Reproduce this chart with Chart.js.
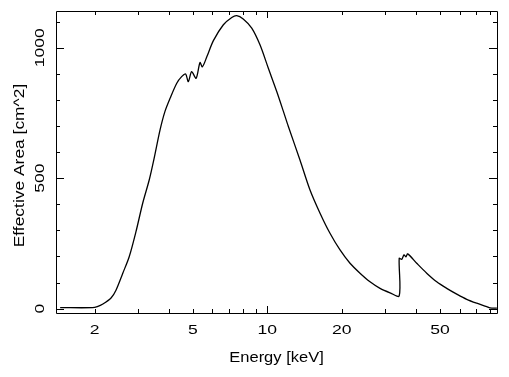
<!DOCTYPE html>
<html>
<head>
<meta charset="utf-8">
<script src="https://cdn.jsdelivr.net/npm/chart.js@4/dist/chart.umd.min.js"></script>
<style>
  body { margin: 0; background: #fff; }
  canvas { display: block; }
</style>
</head>
<body>
<canvas id="chart-area" width="509" height="377"></canvas>
<script>
// effective area curve (keV, cm^2)
const energies = [1.45, 1.96, 2.05, 2.16, 2.33, 2.44, 2.60, 2.76, 2.94, 3.13, 3.33, 3.48, 3.68, 3.85, 4.04,
    4.30, 4.50, 4.67, 4.79, 4.94, 5.15, 5.34, 5.46, 5.69, 6.05, 6.64, 7.18, 7.52, 7.99, 8.65, 9.34,
    10.09, 10.91, 11.61, 12.16, 13.56, 14.89, 16.35, 17.94, 19.70, 21.62, 23.73, 26.05, 28.60, 31.40,
    34.2, 34.2, 35.01, 35.77, 36.44, 37.02, 40.27, 44.19, 48.51, 53.25, 58.46, 64.18, 70.45, 77.33, 79.7, 85];
const areas = [4, 4, 8, 18, 41, 71, 136, 199, 295, 404, 495, 575, 685, 755, 806,
    864, 889, 899, 870, 908, 883, 943, 927, 965, 1027, 1088, 1116, 1123, 1110, 1075, 1011,
    922, 833, 757, 699, 570, 455, 366, 289, 225, 174, 136, 103, 78, 61,
    49, 193, 189, 206, 199, 210, 174, 136, 103, 78, 56, 36, 21, 8, 3, 2];

const xLabels = [2, 5, 10, 20, 50];
const xMajor = [10];
const xMinor = [2, 3, 4, 5, 6, 7, 8, 9, 20, 30, 40, 50, 60, 70, 80];
const yLabels = [0, 500, 1000];
const yMinor = [0, 100, 200, 300, 400, 500, 600, 700, 800, 900, 1000, 1100];

const FONT = '"Liberation Sans", Arial, sans-serif';

function stretchText(ctx, txt, px, py, rot, sx) {
    ctx.save();
    ctx.translate(px, py);
    ctx.rotate(rot);
    ctx.scale(sx, 1);
    ctx.fillText(txt, 0, 0);
    ctx.restore();
}

// pgplot-like box: frame, inward ticks on all sides, labels
const pgBox = {
    id: 'pgBox',
    afterDraw: (chart) => {
        const {ctx, chartArea: {left, right, top, bottom}, scales: {x, y}} = chart;
        ctx.save();
        ctx.strokeStyle = '#000';
        ctx.lineWidth = 1;
        ctx.beginPath();
        ctx.rect(Math.round(left) + 0.5, Math.round(top) + 0.5, Math.round(right - left), Math.round(bottom - top));
        const tick = (x0, y0, x1, y1) => { ctx.moveTo(x0, y0); ctx.lineTo(x1, y1); };
        xMinor.concat(xMajor).forEach(v => {
            const px = Math.round(x.getPixelForValue(v)) + 0.5;
            const len = xMajor.includes(v) ? 7 : 4;
            tick(px, bottom, px, bottom - len);
            tick(px, top, px, top + len);
        });
        yMinor.forEach(v => {
            const py = Math.round(y.getPixelForValue(v)) + 0.5;
            const len = yLabels.includes(v) ? 8 : 4;
            tick(left, py, left + len, py);
            tick(right, py, right - len, py);
        });
        ctx.stroke();

        ctx.fillStyle = '#000';
        ctx.textAlign = 'center';
        ctx.textBaseline = 'alphabetic';
        ctx.font = '13.5px ' + FONT;
        xLabels.forEach(v => {
            stretchText(ctx, String(v), x.getPixelForValue(v), 334, 0, 1.3);
        });
        yLabels.forEach(v => {
            stretchText(ctx, String(v), 44, y.getPixelForValue(v), -Math.PI / 2, 1.3);
        });
        ctx.font = '15px ' + FONT;
        stretchText(ctx, 'Energy [keV]', (left + right) / 2, 362, 0, 1.1);
        stretchText(ctx, 'Effective Area [cm^2]', 23.5, 165.5, -Math.PI / 2, 1.16);
        ctx.restore();
    }
};

const ctx = document.getElementById('chart-area');
const myChart = new Chart(ctx, {
    type: 'line',
    data: {
        datasets: [{
            label: 'Effective Area',
            data: energies.map((e, i) => ({x: e, y: areas[i]})),
            borderColor: '#000000',
            borderWidth: 1.3,
            pointRadius: 0,
            tension: 0.3,
            fill: false
        }]
    },
    options: {
        responsive: false,
        animation: false,
        layout: {
            padding: {left: 56, top: 11, right: 12, bottom: 64}
        },
        scales: {
            x: {
                type: 'logarithmic',
                min: 1.395,
                max: 85.1,
                display: false
            },
            y: {
                type: 'linear',
                min: -16.5,
                max: 1140.6,
                display: false
            }
        },
        plugins: {
            legend: {display: false},
            tooltip: {enabled: false}
        }
    },
    plugins: [pgBox],
});
</script>
</body>
</html>
